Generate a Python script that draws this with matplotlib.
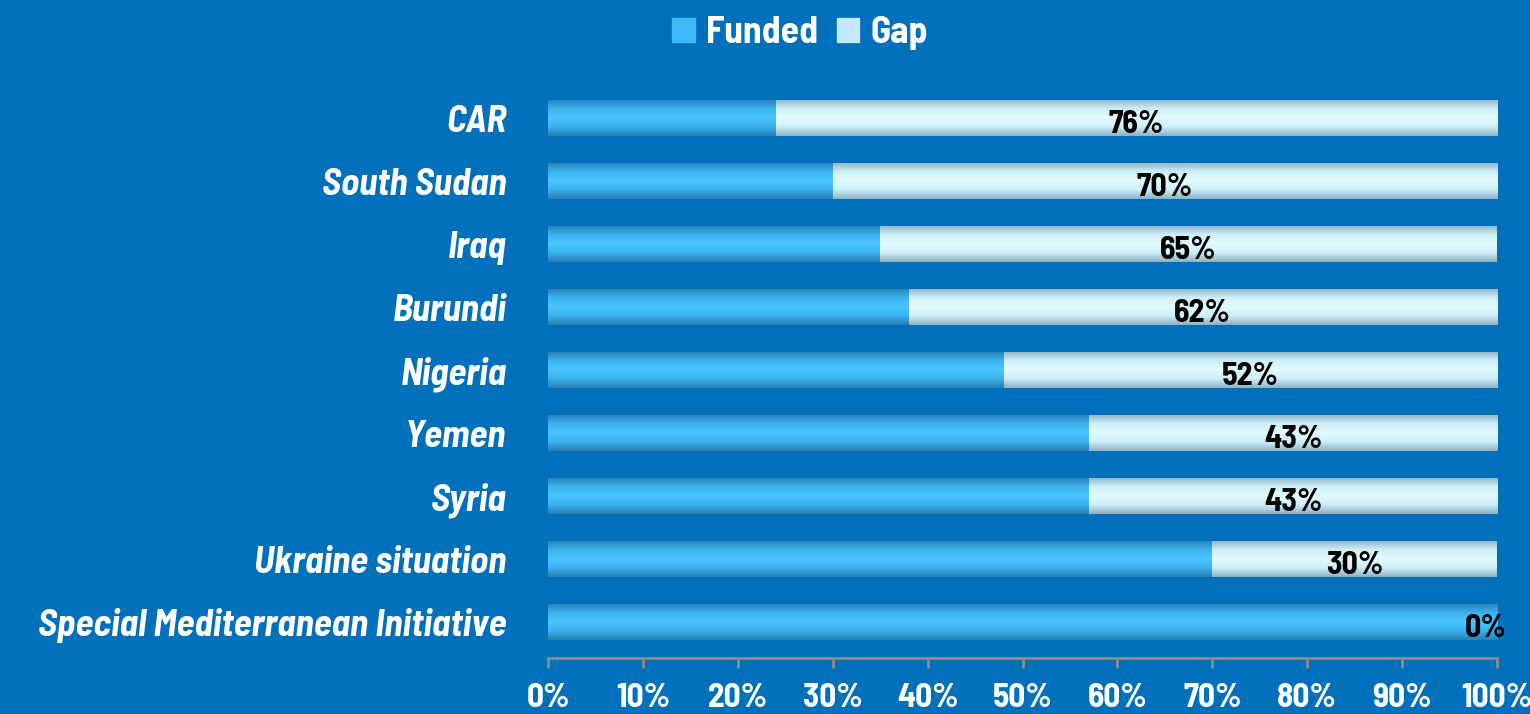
import numpy as np
import matplotlib.pyplot as plt
from matplotlib.patches import Patch
from matplotlib.colors import LinearSegmentedColormap

# Datos
categories = ['CAR', 'South Sudan', 'Iraq', 'Burundi', 'Nigeria', 'Yemen', 'Syria',
              'Ukraine situation', 'Special Mediterranean Initiative']
gap = [76, 70, 65, 62, 52, 43, 43, 30, 0]
funded = [100 - g for g in gap]
tick_labels = ['0%', '10%', '20%', '30%', '40%', '50%', '60%', '70%', '80%', '90%', '100%']

bg = '#0070BA'
c_funded = '#3DB8F5'
c_gap = '#D8F7FF'

plt.rcParams['font.family'] = ['Barlow Semi Condensed', 'DejaVu Sans']
plt.rcParams['font.weight'] = 'bold'

fig = plt.figure(figsize=(15.3, 7.14), dpi=100, facecolor=bg)
ax = fig.add_axes([548 / 1530, 1 - 658 / 714, 949 / 1530, (658 - 86.5) / 714])
ax.set_facecolor(bg)

y = np.arange(len(categories))
h = 0.58
b1 = ax.barh(y, funded, height=h, color=c_funded, edgecolor='none')
b2 = ax.barh(y, gap, left=funded, height=h, color=c_gap, edgecolor='none')


# sombreado tipo cilindro
def shade(bars, top, mid, bottom):
    cmap = LinearSegmentedColormap.from_list('c', [bottom, mid, top, mid, bottom])
    grad = np.linspace(0, 1, 64).reshape(-1, 1)
    for b in bars:
        if b.get_width() <= 0:
            continue
        x0, y0 = b.get_x(), b.get_y()
        im = ax.imshow(grad, cmap=cmap, aspect='auto', origin='lower',
                       extent=[x0, x0 + b.get_width(), y0, y0 + b.get_height()],
                       zorder=2)
        im.set_clip_path(b)


shade(b1, '#4CC6FF', '#3AB2EE', '#2B7FB5')
shade(b2, '#E2FBFF', '#CDEFF8', '#8FB2C4')

ax.set_xlim(0, 100)
ax.set_ylim(8.571, -0.5)

# etiquetas de datos
for i, (f, g) in enumerate(zip(funded, gap)):
    xc = min(f + g / 2, 98.8)
    ax.text(xc, i + 0.1, f'{g}%', ha='center', va='center', fontsize=23,
            color='black', fontweight='bold', zorder=5)

ax.set_yticks(y)
ax.set_yticklabels(categories, fontsize=27, color='white', fontstyle='italic',
                   fontweight='bold')
ax.tick_params(axis='y', length=0, pad=30)

ax.set_xticks(np.arange(0, 101, 10))
ax.set_xticklabels(tick_labels, fontsize=24, color='white', fontweight='bold')
ax.tick_params(axis='x', colors='#8C8C8C', labelcolor='white', length=7, width=2,
               pad=11)

for s in ['top', 'right', 'left']:
    ax.spines[s].set_visible(False)
ax.spines['bottom'].set_color('#8C8C8C')
ax.spines['bottom'].set_linewidth(2)

handles = [Patch(color='#3DB8F5', label='Funded'), Patch(color='#C4E9FF', label='Gap')]
fig.legend(handles=handles, loc='upper center', bbox_to_anchor=(0.523, 1.025), ncol=2,
           frameon=False, fontsize=27, labelcolor='white', handlelength=0.6,
           handleheight=0.6, handletextpad=0.3, columnspacing=0.5)

fig.savefig('out.png', dpi=100, facecolor=bg)
